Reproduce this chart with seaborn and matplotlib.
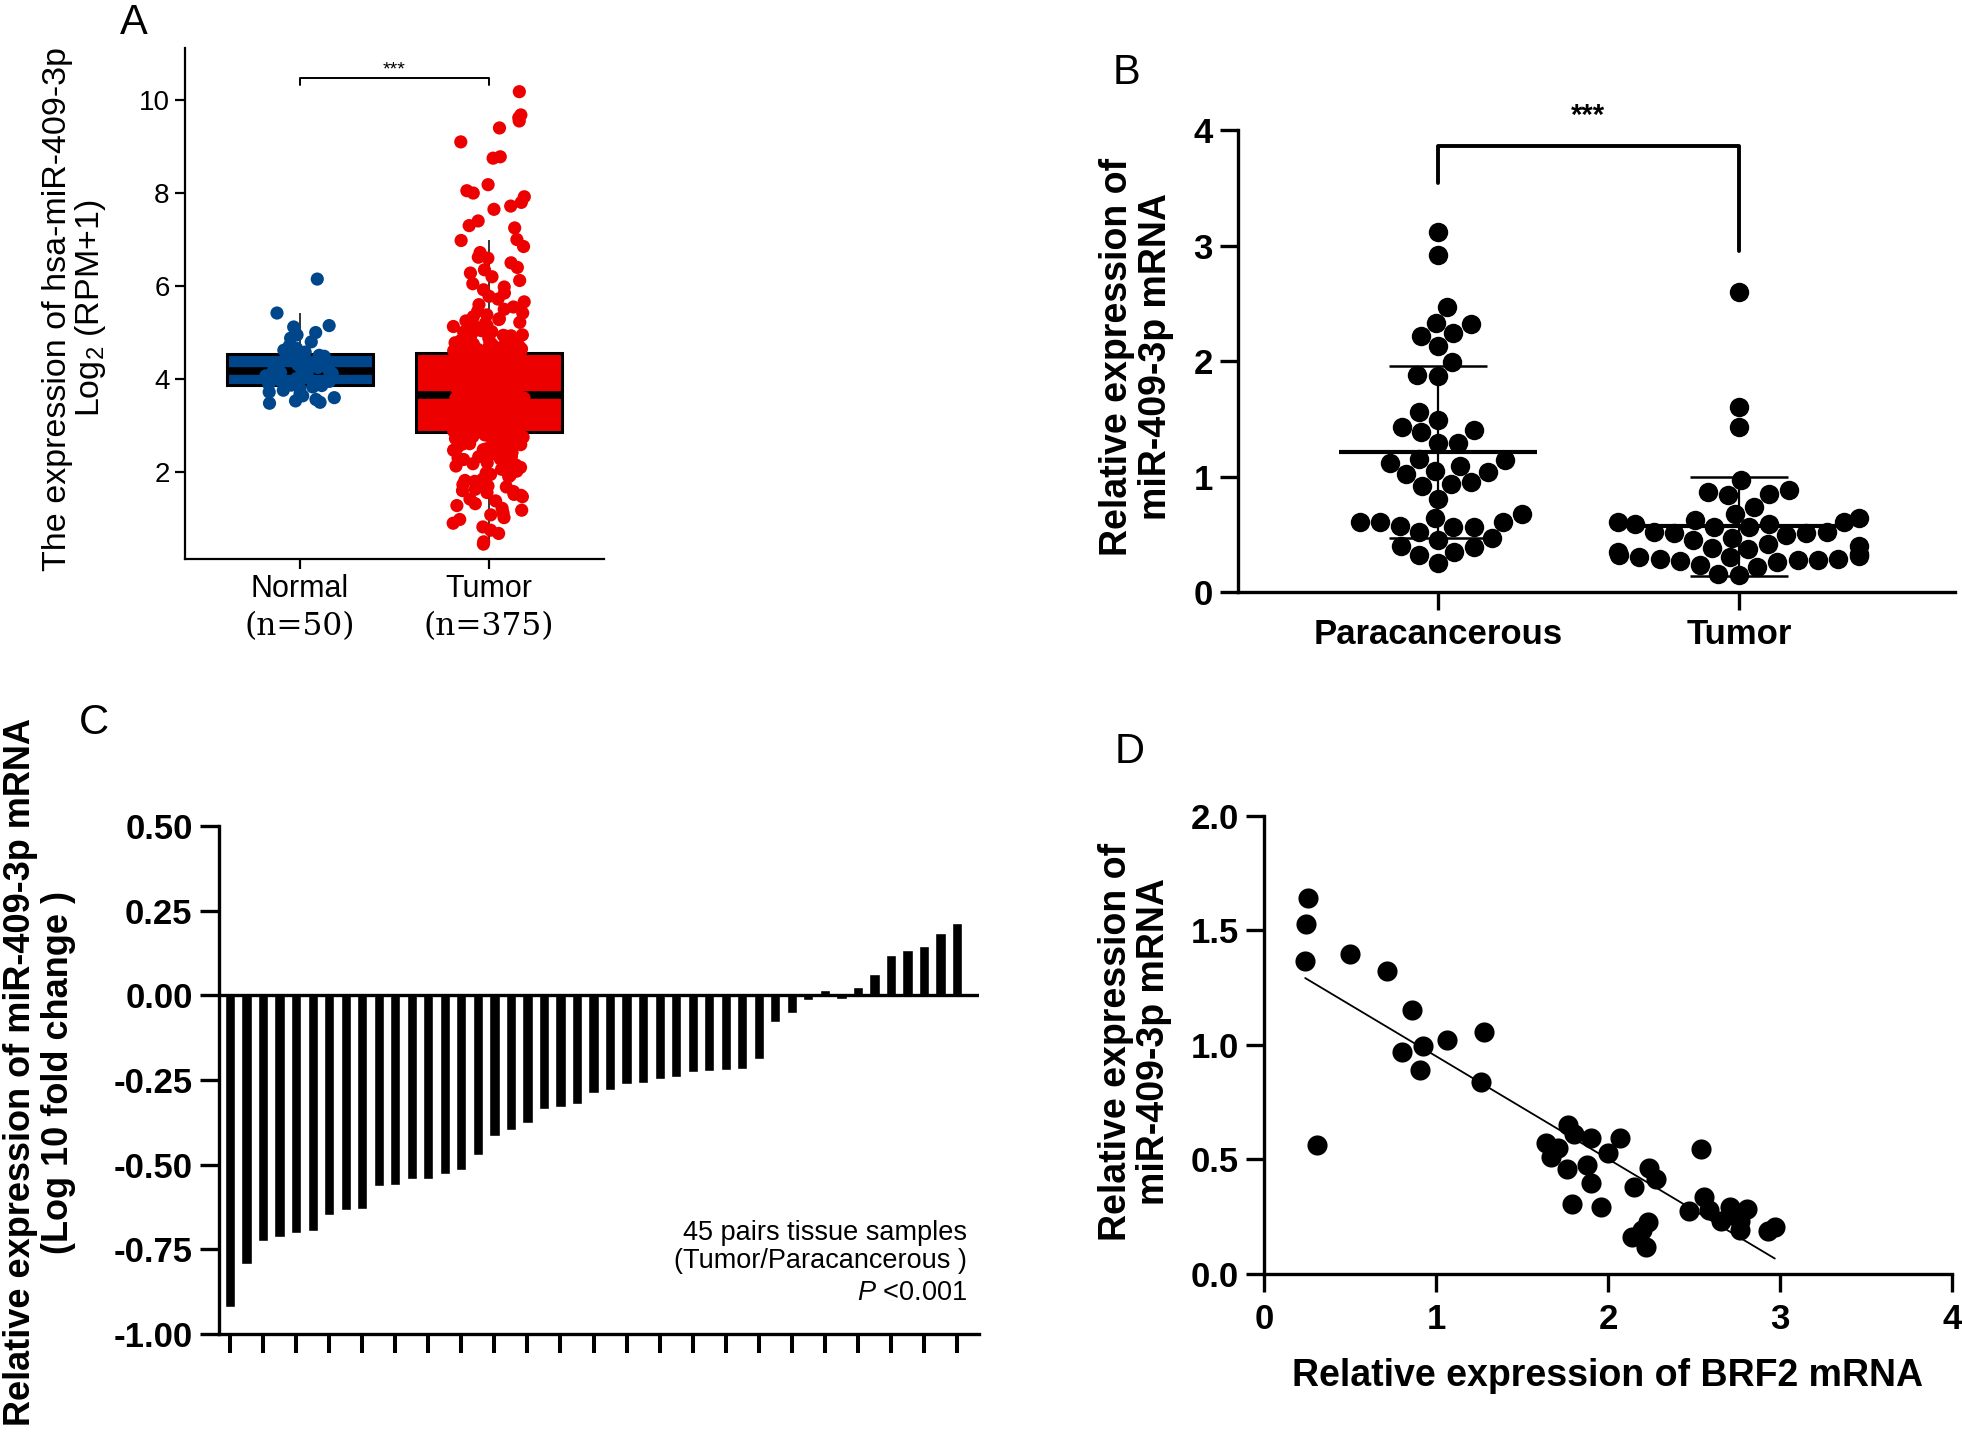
import numpy as np
import pandas as pd
import matplotlib
matplotlib.use("Agg")
import matplotlib.pyplot as plt
import matplotlib.transforms as mtransforms
import seaborn as sns

sns.set_style("ticks", {'axes.edgecolor': 'black', 'xtick.color': 'black', 'ytick.color': 'black',
                        'text.color': 'black', 'axes.labelcolor': 'black'})
plt.rcParams['font.family'] = ['Liberation Sans', 'DejaVu Sans']
plt.rcParams['axes.unicode_minus'] = False
plt.rcParams['mathtext.fontset'] = 'custom'
plt.rcParams['mathtext.rm'] = 'Liberation Sans'
plt.rcParams['mathtext.it'] = 'Liberation Sans:italic'
plt.rcParams['mathtext.bf'] = 'Liberation Sans:bold'

# ---------------- data ----------------
# A: TCGA expression, log2(RPM+1)
groups_a = ['Normal', 'Tumor']
n_labels_a = ['(n=50)', '(n=375)']
normal_tcga = [3.48, 3.50, 3.53, 3.56, 3.60, 3.64, 3.68, 3.72, 3.76, 3.80, 3.83, 3.86,
               3.87, 3.89, 3.92, 3.95, 3.98, 4.01, 4.04, 4.07, 4.10, 4.12, 4.14, 4.16,
               4.17, 4.19, 4.22, 4.25, 4.28, 4.31, 4.34, 4.37, 4.40, 4.43, 4.46, 4.49,
               4.51, 4.55, 4.58, 4.62, 4.66, 4.72, 4.80, 4.88, 4.95, 5.00, 5.12, 5.15,
               5.42, 6.15]
tumor_tcga = [0.45, 0.50, 0.68, 0.75, 0.82, 0.90, 0.98, 1.02, 1.08, 1.12, 1.18, 1.22, 1.28, 1.32,
              1.38, 1.42, 1.47, 1.50, 1.52, 1.56, 1.58, 1.60, 1.63, 1.65, 1.68, 1.70, 1.73, 1.75, 1.78, 1.80,
              1.82, 1.85, 1.87, 1.90, 1.93, 1.95, 1.98, 2.00, 2.02, 2.06, 2.08, 2.10, 2.13, 2.15, 2.18, 2.20,
              2.22, 2.24, 2.27, 2.28, 2.30, 2.33, 2.34, 2.36, 2.38, 2.41, 2.42, 2.44, 2.47, 2.48, 2.50, 2.52,
              2.54, 2.56, 2.57, 2.59, 2.60, 2.61, 2.63, 2.64, 2.65, 2.67, 2.68, 2.69, 2.71, 2.72, 2.73, 2.74,
              2.75, 2.76, 2.77, 2.78, 2.79, 2.80, 2.80, 2.81, 2.82, 2.82, 2.83, 2.83, 2.84, 2.84, 2.85, 2.85,
              2.86, 2.88, 2.88, 2.90, 2.92, 2.93, 2.95, 2.96, 2.97, 2.99,
              3.00, 3.01, 3.03, 3.04, 3.05, 3.07, 3.08, 3.09, 3.10, 3.12,
              3.13, 3.14, 3.15, 3.16, 3.18, 3.19, 3.20, 3.21, 3.22, 3.23,
              3.24, 3.26, 3.27, 3.28, 3.29, 3.30, 3.31, 3.32, 3.33, 3.34,
              3.35, 3.36, 3.37, 3.38, 3.39, 3.40, 3.41, 3.42, 3.43, 3.44,
              3.45, 3.45, 3.46, 3.47, 3.48, 3.49, 3.50, 3.50, 3.51, 3.52,
              3.53, 3.53, 3.54, 3.55, 3.55, 3.56, 3.57, 3.57, 3.58, 3.58,
              3.59, 3.59, 3.60, 3.60, 3.61, 3.61, 3.62, 3.62, 3.62, 3.63,
              3.63, 3.63, 3.64, 3.64, 3.64, 3.64, 3.65, 3.65, 3.65, 3.65,
              3.65, 3.65, 3.65,
              3.65, 3.66, 3.67, 3.68, 3.69, 3.70, 3.71, 3.72, 3.73, 3.74,
              3.75, 3.76, 3.78, 3.79, 3.80, 3.81, 3.82, 3.84, 3.85, 3.86,
              3.87, 3.88, 3.90, 3.91, 3.92, 3.93, 3.94, 3.96, 3.97, 3.98,
              3.99, 4.00, 4.01, 4.02, 4.03, 4.04, 4.05, 4.06, 4.07, 4.08,
              4.09, 4.10, 4.11, 4.12, 4.13, 4.14, 4.15, 4.16, 4.17, 4.18,
              4.19, 4.20, 4.21, 4.22, 4.23, 4.24, 4.25, 4.26, 4.27, 4.28,
              4.29, 4.30, 4.31, 4.32, 4.33, 4.34, 4.35, 4.36, 4.37, 4.38,
              4.39, 4.40, 4.41, 4.42, 4.43, 4.44, 4.45, 4.46, 4.47, 4.48,
              4.49, 4.50, 4.50, 4.51, 4.51, 4.52, 4.52, 4.53, 4.53, 4.54,
              4.54, 4.54, 4.55, 4.55,
              4.56, 4.57, 4.58, 4.59, 4.60, 4.61, 4.62, 4.63, 4.64, 4.65,
              4.66, 4.67, 4.68, 4.70, 4.71, 4.72, 4.73, 4.74, 4.75, 4.77,
              4.78, 4.79, 4.80, 4.82, 4.83, 4.85, 4.86, 4.87, 4.88, 4.90,
              4.92, 4.93, 4.94, 4.95, 4.97, 5.00, 5.01, 5.02, 5.04, 5.06,
              5.08, 5.10, 5.13, 5.15, 5.18, 5.20, 5.22, 5.25, 5.28, 5.30,
              5.34, 5.38, 5.42, 5.46, 5.50, 5.55, 5.60, 5.66, 5.72, 5.78,
              5.85, 5.92, 5.98, 6.05, 6.12, 6.20, 6.28, 6.35, 6.40, 6.50,
              6.60, 6.62, 6.72, 6.85, 6.98, 7.00,
              7.25, 7.30, 7.40, 7.65, 7.72, 7.80, 7.92, 8.00, 8.05, 8.18,
              8.75, 8.78, 9.10, 9.40, 9.55, 9.62, 9.68, 10.18]

# B: qPCR, 45 paired samples
groups_b = ['Paracancerous', 'Tumor']
para_qpcr = [3.12, 2.92, 2.47, 2.33, 2.32, 2.22, 2.24, 2.13, 1.99, 1.88,
             1.87, 1.56, 1.49, 1.43, 1.39, 1.40, 1.29, 1.29, 1.12, 1.15,
             1.14, 1.09, 1.04, 1.05, 1.02, 0.94, 0.95, 0.92, 0.81, 0.68,
             0.64, 0.61, 0.61, 0.61, 0.56, 0.56, 0.57, 0.52, 0.47, 0.45,
             0.40, 0.39, 0.35, 0.32, 0.25]
tumor_qpcr = [2.60, 1.60, 1.43, 0.97, 0.88, 0.87, 0.85, 0.84, 0.74, 0.68,
              0.64, 0.62, 0.61, 0.61, 0.59, 0.59, 0.56, 0.56, 0.52, 0.52,
              0.51, 0.51, 0.49, 0.47, 0.45, 0.42, 0.40, 0.38, 0.37, 0.35,
              0.33, 0.32, 0.31, 0.30, 0.30, 0.29, 0.29, 0.28, 0.28, 0.27,
              0.26, 0.23, 0.22, 0.16, 0.15]

# C: log10 fold change (Tumor/Paracancerous), sorted
fold_change = [-0.921, -0.794, -0.727, -0.714, -0.703, -0.696, -0.650, -0.635, -0.632, -0.562,
               -0.559, -0.543, -0.543, -0.529, -0.515, -0.473, -0.416, -0.399, -0.378, -0.336,
               -0.329, -0.322, -0.289, -0.279, -0.262, -0.258, -0.248, -0.241, -0.226, -0.224,
               -0.220, -0.217, -0.188, -0.078, -0.051, -0.014, 0.017, -0.012, 0.024, 0.062,
               0.120, 0.134, 0.144, 0.183, 0.214]

# D: BRF2 vs miR-409-3p
brf2 = [0.256, 0.246, 0.240, 0.500, 0.715, 0.860, 0.800, 0.925, 0.910, 1.066,
        1.280, 1.260, 0.310, 1.770, 1.640, 1.670, 1.710, 1.800, 1.900, 1.760,
        1.880, 1.900, 1.790, 1.960, 2.000, 2.070, 2.150, 2.240, 2.280, 2.230,
        2.200, 2.140, 2.220, 2.470, 2.540, 2.560, 2.590, 2.660, 2.710, 2.770,
        2.770, 2.810, 2.930, 2.970, 2.740]
mir409 = [1.640, 1.530, 1.365, 1.395, 1.324, 1.153, 0.969, 0.995, 0.889, 1.023,
          1.056, 0.837, 0.564, 0.650, 0.573, 0.512, 0.548, 0.609, 0.595, 0.457,
          0.477, 0.396, 0.305, 0.294, 0.528, 0.595, 0.380, 0.463, 0.416, 0.227,
          0.193, 0.162, 0.118, 0.274, 0.544, 0.335, 0.280, 0.233, 0.294, 0.233,
          0.193, 0.284, 0.187, 0.203, 0.264]

fig = plt.figure(figsize=(19.62, 14.49), dpi=100)


def bold_ticks(ax, size):
    for lab in ax.get_xticklabels() + ax.get_yticklabels():
        lab.set_fontweight('bold')
        lab.set_fontsize(size)


# ---------------- A ----------------
axA = fig.add_axes([0.0943, 0.6142, 0.2136, 0.3527])
dfA = pd.DataFrame({'group': ['Normal'] * len(normal_tcga) + ['Tumor'] * len(tumor_tcga),
                    'expr': normal_tcga + tumor_tcga})
pal_a = {'Normal': '#00468B', 'Tumor': '#ED0000'}
sns.boxplot(data=dfA, x='group', y='expr', hue='group', order=groups_a, palette=pal_a,
            width=0.77, saturation=1, showfliers=False, showcaps=False,
            linecolor='black', linewidth=2.2, whiskerprops={'linewidth': 1.1},
            medianprops={'linewidth': 5.5}, legend=False, ax=axA)
np.random.seed(7)
sns.stripplot(data=dfA, x='group', y='expr', hue='group', order=groups_a, palette=pal_a,
              jitter=0.19, size=9.5, linewidth=0, legend=False, ax=axA, zorder=3)
axA.set_xlim(-0.608, 1.609)
axA.set_ylim(0.13, 11.12)
axA.set_yticks([2, 4, 6, 8, 10])
axA.set_xticks([0, 1])
axA.set_xticklabels(groups_a, fontsize=22)
axA.tick_params(axis='y', labelsize=20, width=1.6, length=7, pad=4)
axA.tick_params(axis='x', width=1.6, length=7, pad=4)
sns.despine(ax=axA)
for s in ['left', 'bottom']:
    axA.spines[s].set_linewidth(1.6)
axA.set_xlabel('')
axA.set_ylabel('The expression of hsa-miR-409-3p\nLog$_{2}$ (RPM+1)', fontsize=24.5,
               linespacing=1.0, va='center')
axA.yaxis.set_label_coords(-0.262, 0.49)
trA = mtransforms.blended_transform_factory(axA.transData, axA.transAxes)
for i, lab in enumerate(n_labels_a):
    axA.text(i, -0.133, lab, transform=trA, ha='center', va='center', fontsize=22.5,
             family='DejaVu Serif')
axA.plot([0, 0, 1, 1], [10.32, 10.48, 10.48, 10.32], color='black', lw=1.4)
axA.text(0.5, 10.64, '***', ha='center', va='center', fontsize=14)

# ---------------- B ----------------
axB = fig.add_axes([0.6310, 0.5914, 0.3654, 0.3188])
dfB = pd.DataFrame({'group': ['Paracancerous'] * len(para_qpcr) + ['Tumor'] * len(tumor_qpcr),
                    'value': para_qpcr + tumor_qpcr})
sns.swarmplot(data=dfB, x='group', y='value', order=groups_b, color='black', size=14,
              ax=axB, zorder=3)
for i, vals in enumerate([para_qpcr, tumor_qpcr]):
    m = np.mean(vals)
    sd = np.std(vals, ddof=1)
    axB.hlines(m, i - 0.33, i + 0.33, color='black', lw=3.0, zorder=4)
    axB.errorbar(i, m, yerr=sd, color='black', elinewidth=1.6, capsize=35, capthick=1.8,
                 zorder=4)
axB.set_xlim(-0.664, 1.718)
axB.set_ylim(0, 4)
axB.set_yticks([0, 1, 2, 3, 4])
axB.set_xlabel('')
sns.despine(ax=axB)
for s in ['left', 'bottom']:
    axB.spines[s].set_linewidth(2.4)
axB.tick_params(axis='both', length=13, width=2.4)
axB.tick_params(axis='y', pad=5)
axB.tick_params(axis='x', pad=6)
bold_ticks(axB, 25)
axB.set_ylabel('Relative expression of\nmiR-409-3p mRNA', fontsize=27, fontweight='bold',
               linespacing=1.1, va='center')
axB.yaxis.set_label_coords(-0.142, 0.509)
axB.plot([0, 0, 1, 1], [3.54, 3.86, 3.86, 2.95], color='black', lw=2.8, clip_on=False)
axB.text(0.5, 4.12, '***', ha='center', va='center', fontsize=21, fontweight='bold')

# ---------------- C ----------------
axC = fig.add_axes([0.1116, 0.0794, 0.3874, 0.3506])
sns.barplot(x=list(range(len(fold_change))), y=fold_change, color='black', width=0.62,
            saturation=1, errorbar=None, ax=axC)
axC.axhline(0, color='black', lw=2.4, zorder=3)
axC.set_xlim(-0.67, 45.33)
axC.set_ylim(-1.0, 0.5)
axC.set_xticks(list(range(0, len(fold_change), 2)))
axC.set_xticklabels([])
yt = [0.5, 0.25, 0.0, -0.25, -0.5, -0.75, -1.0]
axC.set_yticks(yt)
axC.set_yticklabels(['%.2f' % v for v in yt])
sns.despine(ax=axC)
for s in ['left', 'bottom']:
    axC.spines[s].set_linewidth(2.4)
axC.tick_params(axis='x', length=14, width=2.9)
axC.tick_params(axis='y', length=14, width=2.4, pad=5)
bold_ticks(axC, 25)
axC.set_ylabel('Relative expression of miR-409-3p mRNA\n(Log 10 fold change )', fontsize=26,
               fontweight='bold', linespacing=1.1, va='center')
axC.yaxis.set_label_coords(-0.236, 0.515)
axC.text(0.984, 0.199, '45 pairs tissue samples', transform=axC.transAxes, ha='right',
         va='center', fontsize=19.5)
axC.text(0.984, 0.144, '(Tumor/Paracancerous )', transform=axC.transAxes, ha='right',
         va='center', fontsize=19.5)
axC.text(0.984, 0.081, '$\\mathit{P}$ <0.001', transform=axC.transAxes, ha='right',
         va='center', fontsize=19.5)

# ---------------- D ----------------
axD = fig.add_axes([0.6442, 0.1208, 0.3507, 0.3161])
sns.regplot(x=brf2, y=mir409, ci=None, color='black', truncate=True,
            scatter_kws={'s': 210, 'linewidths': 0, 'alpha': 1},
            line_kws={'linewidth': 1.3}, ax=axD)
axD.set_xlim(0, 4)
axD.set_ylim(0, 2)
axD.set_xticks([0, 1, 2, 3, 4])
yd = [0.0, 0.5, 1.0, 1.5, 2.0]
axD.set_yticks(yd)
axD.set_yticklabels(['%.1f' % v for v in yd])
sns.despine(ax=axD)
for s in ['left', 'bottom']:
    axD.spines[s].set_linewidth(2.4)
axD.tick_params(axis='both', length=13, width=2.4)
axD.tick_params(axis='x', pad=8)
axD.tick_params(axis='y', pad=5)
bold_ticks(axD, 25)
axD.set_ylabel('Relative expression of\nmiR-409-3p mRNA', fontsize=27, fontweight='bold',
               linespacing=1.1, va='center')
axD.yaxis.set_label_coords(-0.1875, 0.507)
axD.set_xlabel('Relative expression of BRF2 mRNA', fontsize=27, fontweight='bold',
               va='center')
axD.xaxis.set_label_coords(0.5, -0.223)

# panel letters
for letter, (px, py) in zip('ABCD', [(134, 23), (1126, 73), (94, 723), (1130, 752)]):
    fig.text(px / 1962, 1 - py / 1449, letter, ha='center', va='center', fontsize=30)

fig.savefig('out.png', dpi=100)
